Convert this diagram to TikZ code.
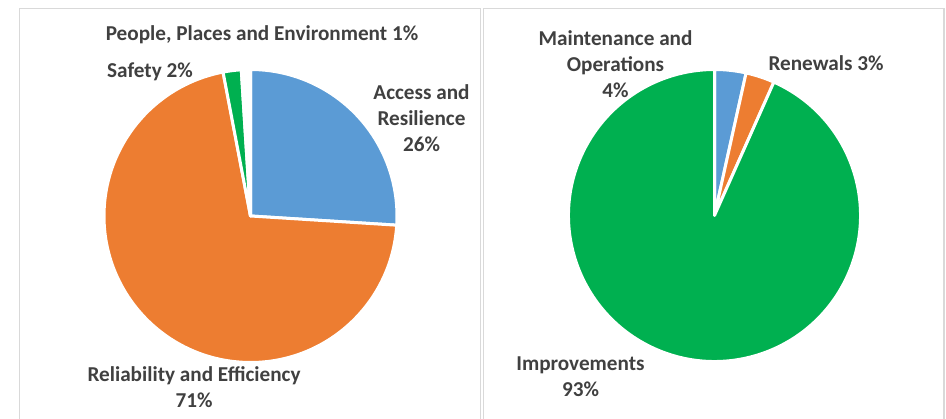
\documentclass[tikz,border=0pt]{standalone}
\usepackage{fontspec}
\setmainfont{Carlito}
\definecolor{cblue}{HTML}{5B9BD5}
\definecolor{corange}{HTML}{ED7D31}
\definecolor{cgreen}{HTML}{00B050}
\definecolor{labelgrey}{HTML}{404040}
\definecolor{bordergrey}{HTML}{D9D9D9}
\newcommand\pieslice[5]{%
  \filldraw[slice, fill=#5] (#1) -- ++(#3:#2) arc[start angle=#3, end angle=#4, radius=#2] -- cycle;}
\begin{document}
\begin{tikzpicture}[x=1pt,y=1pt,
  lbl/.style={font=\fontsize{21.2}{26}\selectfont\bfseries, text=labelgrey, align=center, inner sep=0pt},
  slice/.style={draw=white, line width=3pt, line join=round},
  panel/.style={draw=bordergrey, line width=1.5pt}]
\useasboundingbox (0,0) rectangle (946,419);
% panels
\draw[panel] (19.5,-5) -- (19.5,410.7) -- (480.5,410.7) -- (480.5,-5);
\draw[panel] (483.5,-5) -- (483.5,410.7) -- (944,410.7) -- (944,-5);
% left pie
\coordinate (lc) at (250.5,203);
\pieslice{lc}{146.5pt}{90}{-3.6}{cblue}
\pieslice{lc}{146.5pt}{-3.6}{-259.2}{corange}
\pieslice{lc}{146.5pt}{100.8}{93.6}{cgreen}
\pieslice{lc}{146.5pt}{93.6}{90}{white}
% right pie
\coordinate (rc) at (714.5,203.5);
\pieslice{rc}{146pt}{90}{77.5}{cblue}
\pieslice{rc}{146pt}{77.5}{66}{corange}
\pieslice{rc}{146pt}{66}{-270}{cgreen}
% labels left
\node[lbl] (ppe) at (262,384) {People, Places and Environment 1\%};
\node[lbl] (saf) at (150,347) {Safety 2\%};
\node[lbl] (acc) at (421.5,301) {Access and\\Resilience\\26\%};
\node[lbl] (rel) at (194,31.5) {Reliability and Efficiency\\71\%};
% labels right
\node[lbl] (mao) at (615.5,354.5) {Maintenance and\\Operations\\4\%};
\node[lbl] (ren) at (826,356) {Renewals 3\%};
\node[lbl] (imp) at (580.5,42.5) {Improvements\\93\%};
\end{tikzpicture}
\end{document}
